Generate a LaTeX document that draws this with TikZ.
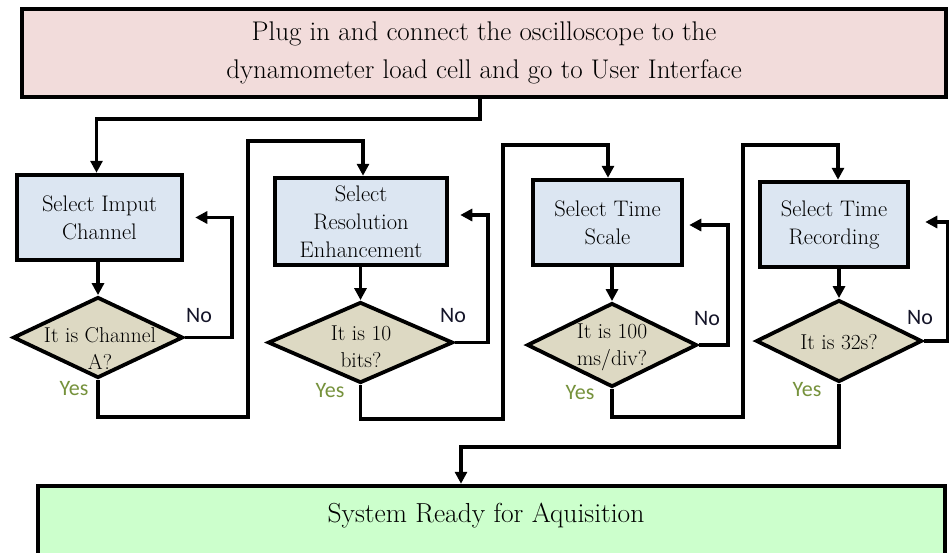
\documentclass[tikz,border=0pt]{standalone}
\usepackage{fontspec}
\newfontfamily\calib{Carlito}
\usetikzlibrary{arrows.meta,shapes.geometric}
\definecolor{topfill}{HTML}{F2DCDB}
\definecolor{boxfill}{HTML}{DCE6F2}
\definecolor{diafill}{HTML}{DDD9C3}
\definecolor{endfill}{HTML}{CCFFCC}
\definecolor{yescol}{HTML}{76923C}
\definecolor{nocol}{HTML}{141428}
\tikzset{
  bigbox/.style={draw=black,line width=4.5pt,rectangle,inner sep=0pt},
  stepbox/.style={draw=black,line width=4.5pt,fill=boxfill,rectangle,inner sep=0pt,minimum height=85pt,align=center,font=\fontsize{22.5}{28}\selectfont},
  dia/.style={draw=black,line width=3.8pt,fill=diafill,diamond,inner sep=0pt,minimum height=81pt},
  dtext/.style={align=center,inner sep=0pt,font=\fontsize{21.5}{27}\selectfont},
  arr/.style={line width=3.6pt,-{Triangle[width=12pt,length=12pt]}},
  nolab/.style={text=nocol,font=\calib\fontsize{22}{24}\selectfont,inner sep=0pt},
  yeslab/.style={text=yescol,font=\calib\fontsize{22}{24}\selectfont,inner sep=0pt}
}
\begin{document}
\begin{tikzpicture}[x=1pt,y=-1pt]
\useasboundingbox (0,0) rectangle (949,552);
\fill[white] (0,0) rectangle (949,552);
% top box
\node[bigbox,fill=topfill,minimum width=924pt,minimum height=88pt,align=center,font=\fontsize{27}{38}\selectfont] (top) at (484,53)
  {Plug in and connect the oscilloscope to the\\dynamometer load cell and go to User Interface};
% step boxes
\node[stepbox,minimum width=165pt] (b1) at (99.5,217.5) {Select Imput\\Channel};
\node[stepbox,minimum width=172pt,minimum height=87pt] (b2) at (361,221.5) {Select\\Resolution\\Enhancement};
\node[stepbox,minimum width=149pt] (b3) at (607.5,222.5) {Select Time\\Scale};
\node[stepbox,minimum width=148pt] (b4) at (834,224.5) {Select Time\\Recording};
% diamonds
\node[dia,minimum width=170pt] (d1) at (98,337.5) {};
\node[dia,minimum width=185pt] (d2) at (360.5,342.5) {};
\node[dia,minimum width=170pt,minimum height=84pt] (d3) at (612,345) {};
\node[dia,minimum width=166pt,minimum height=82pt] (d4) at (839,341) {};
\node[dtext] (t1) at (100,348) {It is Channel\\A?};
\node[dtext] (t2) at (361,347) {It is 10\\bits?};
\node[dtext] (t3) at (612,347) {It is 100\\ms/div?};
\node[dtext] (t4) at (839,342) {It is 32s?};
% bottom box
\node[bigbox,fill=endfill,minimum width=907pt,minimum height=88pt] (bot) at (491.5,530) {};
\node[inner sep=0pt,font=\fontsize{27.5}{30}\selectfont] (bottext) at (486,516) {System Ready for Aquisition};
% connectors top -> b1
\draw[arr] ([xshift=-4pt]top.south) -- ++(0,20) -| ([xshift=-3pt]b1.north);
% box -> diamond
\draw[arr] (d1.north |- b1.south) -- (d1.north);
\draw[arr] (d2.north |- b2.south) -- (d2.north);
\draw[arr] (d3.north |- b3.south) -- (d3.north);
\draw[arr] (d4.north |- b4.south) -- (d4.north);
% No loops
\draw[arr,shorten >=11pt] (d1.east) -- (232,337.5) |- (b1.east);
\draw[arr,shorten >=11pt] (d2.east) -- (488,342.5) |- ([yshift=6.5pt]b2.east);
\draw[arr,shorten >=5pt] (d3.east) -- (728,345) |- ([yshift=-2.5pt]b3.east);
\draw[arr,shorten >=15pt] (d4.east) -- (948,341) |- ([yshift=2.5pt]b4.east);
% Yes paths
\draw[arr] (d1.south) -- ++(0,37) -| (248,141) -| ([xshift=2pt]b2.north);
\draw[arr] (d2.south) -- ++(0,34) -| (503,145) -| ([xshift=0.5pt]b3.north);
\draw[arr] (d3.south) -- ++(0,28) -| (743,145) -| ([xshift=4pt]b4.north);
\draw[arr] (d4.south) -- ++(0,63) -| ([xshift=-30.5pt]bot.north);
% labels
\node[nolab] (n1) at (199,316) {No};
\node[nolab] (n2) at (453,316) {No};
\node[nolab] (n3) at (707,319) {No};
\node[nolab] (n4) at (920,318) {No};
\node[yeslab] (y1) at (74,389) {Yes};
\node[yeslab] (y2) at (330,391) {Yes};
\node[yeslab] (y3) at (580,393) {Yes};
\node[yeslab] (y4) at (807,390) {Yes};
\end{tikzpicture}
\end{document}
